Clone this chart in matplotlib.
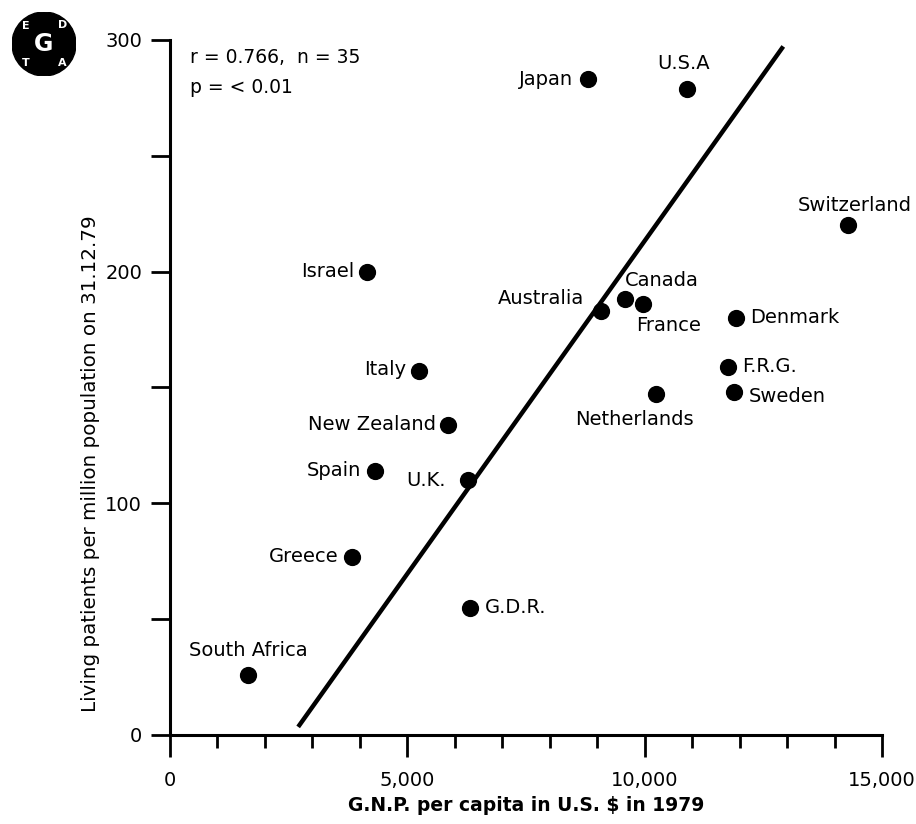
import matplotlib.pyplot as plt
import numpy as np
from matplotlib.ticker import MultipleLocator, FuncFormatter

plt.rcParams['font.family'] = ['DejaVu Sans']

# data
countries = ['South Africa', 'Greece', 'Spain', 'Israel', 'Italy', 'New Zealand',
             'U.K.', 'G.D.R.', 'Japan', 'U.S.A', 'Australia', 'Canada', 'France',
             'Netherlands', 'Denmark', 'F.R.G.', 'Sweden', 'Switzerland']
gnp = [1650, 3840, 4320, 4160, 5250, 5860,
       6270, 6330, 8800, 10890, 9070, 9580, 9960,
       10230, 11920, 11750, 11880, 14290]
patients = [26, 77, 114, 200, 157, 134,
            110, 55, 283, 279, 183, 188, 186,
            147, 180, 159, 148, 220]

# regression line y = a + b*x
slope = 0.02874
intercept = -74.1
line_x = [2700, 12920]

# label placement: (dx, dy in pixels, horizontal alignment)
label_pos = {
    'South Africa': (0, 24, 'center'), 'Greece': (-14, 0, 'right'),
    'Spain': (-14, 0, 'right'), 'Israel': (-13, 0, 'right'),
    'Italy': (-13, 2, 'right'), 'New Zealand': (-12, 0, 'right'),
    'U.K.': (-22, 0, 'right'), 'G.D.R.': (14, 0, 'left'),
    'Japan': (-15, 0, 'right'), 'U.S.A': (-3, 25, 'center'),
    'Australia': (-16, 13, 'right'), 'Canada': (0, 19, 'left'),
    'France': (-7, -21, 'left'), 'Netherlands': (-21, -25, 'center'),
    'Denmark': (14, 0, 'left'), 'F.R.G.': (14, 0, 'left'),
    'Sweden': (15, -4, 'left'), 'Switzerland': (6, 20, 'center'),
}

fig = plt.figure(figsize=(9.16, 8.24), dpi=100)
fig.set_facecolor('white')
ax = fig.add_axes([170/916, 89/824, 712/916, 695/824])

ax.scatter(gnp, patients, s=130, color='black', zorder=3, clip_on=False)
lx = np.array(line_x)
ax.plot(lx, intercept + slope * lx, color='black', lw=3.2, solid_capstyle='butt')

for name, x, y in zip(countries, gnp, patients):
    dx, dy, ha = label_pos[name]
    ax.annotate(name, (x, y), xytext=(dx, dy), textcoords='offset pixels',
                ha=ha, va='center', fontsize=14)

ax.text(0.028, 0.975, 'r = 0.766,  n = 35', transform=ax.transAxes, fontsize=13.5, va='center')
ax.text(0.028, 0.932, 'p = < 0.01', transform=ax.transAxes, fontsize=13.5, va='center')

ax.set_xlim(0, 15000)
ax.set_ylim(0, 300)
for s in ['top', 'right']:
    ax.spines[s].set_visible(False)
for s in ['left', 'bottom']:
    ax.spines[s].set_linewidth(2.2)

ax.xaxis.set_major_locator(MultipleLocator(5000))
ax.xaxis.set_minor_locator(MultipleLocator(1000))
ax.yaxis.set_major_locator(MultipleLocator(100))
ax.yaxis.set_minor_locator(MultipleLocator(50))
ax.xaxis.set_major_formatter(FuncFormatter(lambda v, p: f'{int(v):,}'))
ax.tick_params(axis='x', which='major', direction='out', length=16, width=2, labelsize=14, pad=10)
ax.tick_params(axis='x', which='minor', direction='out', length=9, width=2)
ax.tick_params(axis='y', which='both', direction='out', length=14, width=2, labelsize=14, pad=6)

ax.set_xlabel('G.N.P. per capita in U.S. $ in 1979', fontsize=13.5, fontweight='bold', labelpad=4)
ax.set_ylabel('Living patients per million population on 31.12.79', fontsize=14.3)
ax.yaxis.set_label_coords(-0.098, 0.39)

# EDTA logo
lg = fig.add_axes([12/916, 1 - 76/824, 64/916, 64/824])
lg.set_xlim(-1, 1)
lg.set_ylim(-1, 1)
lg.set_aspect('equal')
lg.axis('off')
lg.add_patch(plt.Circle((0, 0), 1, color='black'))
for ch, px, py in [('E', -0.58, 0.55), ('D', 0.58, 0.58), ('T', -0.58, -0.58), ('A', 0.58, -0.6)]:
    lg.text(px, py, ch, color='white', fontsize=8, fontweight='bold', ha='center', va='center')
lg.text(0, 0, 'G', color='white', fontsize=17, fontweight='bold', ha='center', va='center')

fig.savefig('out.png', dpi=100)
